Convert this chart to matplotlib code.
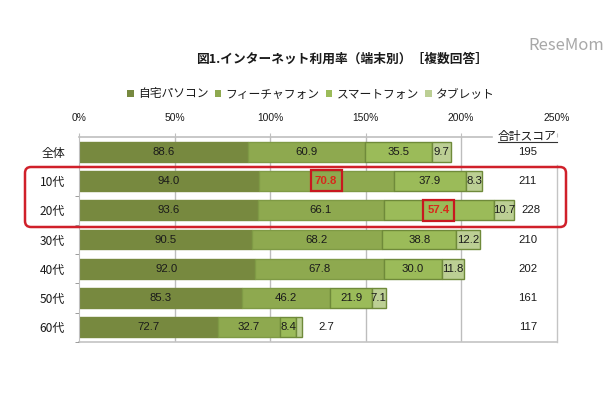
import matplotlib
matplotlib.use('Agg')
import matplotlib.pyplot as plt
from matplotlib.patches import FancyBboxPatch, Rectangle
from matplotlib.transforms import Affine2D

plt.rcParams['font.family'] = ['Noto Sans CJK JP', 'DejaVu Sans']
NUM_FONT = ['Liberation Sans', 'DejaVu Sans']

categories = ['全体', '10代', '20代', '30代', '40代', '50代', '60代']
pc = [88.6, 94.0, 93.6, 90.5, 92.0, 85.3, 72.7]
feature = [60.9, 70.8, 66.1, 68.2, 67.8, 46.2, 32.7]
smart = [35.5, 37.9, 57.4, 38.8, 30.0, 21.9, 8.4]
tablet = [9.7, 8.3, 10.7, 12.2, 11.8, 7.1, 2.7]
totals = [195, 211, 228, 210, 202, 161, 117]
series_names = ['自宅パソコン', 'フィーチャフォン', 'スマートフォン', 'タブレット']
series = [pc, feature, smart, tablet]
colors = ['#77893f', '#8ea94f', '#9bbb59', '#bccf94']
xticks = [0, 50, 100, 150, 200, 250]
text_c = '#1a1a1a'

W, H = 610, 400
fig = plt.figure(figsize=(W/100, H/100), dpi=100, facecolor='white')
ax = fig.add_axes([79/W, 1-342/H, (556.5-79)/W, 205/H])
ax.set_xlim(0, 250)
ax.set_ylim(len(categories)-0.5, -0.5)
for s in ['right', 'bottom', 'top']:
    ax.spines[s].set_visible(False)
ax.spines['left'].set_color('#bfbfbf')
ax.plot([0, 216], [-0.5, -0.5], color='#bfbfbf', lw=1.2, clip_on=False, zorder=1)
ax.plot([0, 250], [6.5, 6.5], color='#c4c4c4', lw=1.2, clip_on=False, zorder=1)
ax.xaxis.tick_top()
ax.set_xticks(xticks)
ax.set_xticklabels([f'{v}%' for v in xticks], fontsize=7.4, color=text_c, family=NUM_FONT)
ax.tick_params(axis='x', length=3, color='#bfbfbf', pad=7)
ax.set_yticks(range(len(categories)))
ax.set_yticklabels(categories, fontsize=8.6, color=text_c)
ax.tick_params(axis='y', length=0, pad=10)
ax.set_yticks([i + 0.5 for i in range(len(categories))], minor=True)
ax.tick_params(axis='y', which='minor', length=3, color='#8c8c8c')
for v in xticks[1:-1]:
    ax.axvline(v, color='#bdbdbd', lw=1, zorder=0)
ax.plot([250, 250], [0.45, 6.5], color='#c4c4c4', lw=1, zorder=0, clip_on=False)

ys = list(range(len(categories)))
left = [0]*len(categories)
edges = ['#77893f', '#7f9a45', '#6f8a3a', '#6f8a3a']
for i, (name, vals, c, e) in enumerate(zip(series_names, series, colors, edges)):
    ax.barh(ys, vals, left=left, height=0.68, color=c, label=name,
            edgecolor=e, linewidth=1.0, zorder=2)
    for y, v, l in zip(ys, vals, left):
        xc = l + v/2
        txt_x = l + v + 13 if (i == 3 and y == 6) else xc
        red = (i == 1 and y == 1) or (i == 2 and y == 2)
        ax.text(txt_x, y, f'{v:.1f}', ha='center', va='center', fontsize=8.2, family=NUM_FONT,
                color='#d8291c' if red else text_c, fontweight='bold' if red else 'normal', zorder=5)
        if red:
            ax.add_patch(Rectangle((xc-8.1, y-0.36), 16.2, 0.72, fill=False,
                                   edgecolor='#c8181f', lw=1.6, zorder=5))
    left = [a+b for a, b in zip(left, vals)]

for y, t in zip(ys, totals):
    ax.text(236.5 if t == 228 else 235, y, str(t), ha='center', va='center', family=NUM_FONT,
            fontsize=8.2, color=text_c, zorder=5)
fig.text(527/W, 1-136/H, '合計スコア', ha='center', va='center', fontsize=8.5, color=text_c)
fig.add_artist(plt.Line2D([498/W, 557/W], [1-142/H]*2, color='#333333', lw=0.8))

pix = Affine2D().scale(1, -1).translate(0, H)
box = FancyBboxPatch((25, 167), 541, 60, boxstyle='round,pad=0,rounding_size=6',
                     fill=False, edgecolor='#d0202a', lw=1.8, transform=pix, zorder=6)
fig.add_artist(box)

fig.text(342/W, 1-59/H, '図1.インターネット利用率（端末別）［複数回答］', ha='center', va='center',
         fontsize=9.15, fontweight='bold', color=text_c)
fig.text(566/W, 1-45/H, 'ReseMom', ha='center', va='center', fontsize=12, color='#a8a8a8')

h, l = ax.get_legend_handles_labels()
leg = fig.legend(h, l, loc='center', bbox_to_anchor=(311/W, 1-94/H), ncol=4, frameon=False,
                 fontsize=8.5, handlelength=0.55, handleheight=0.55, handletextpad=0.35,
                 columnspacing=0.55, labelcolor=text_c)
for p in leg.get_patches():
    p.set_linewidth(0)
fig.savefig('out.png', dpi=100)
